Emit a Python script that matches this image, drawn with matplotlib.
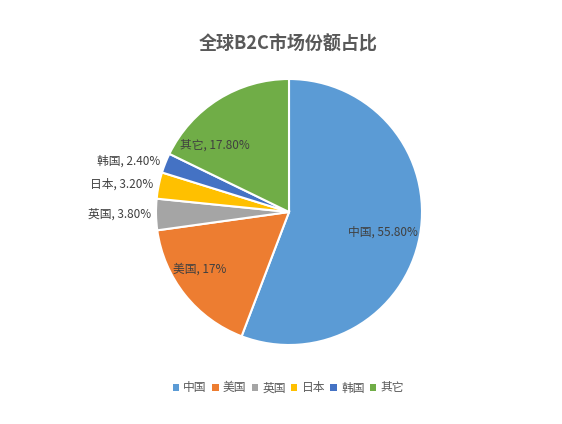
import numpy as np
import matplotlib
matplotlib.use("Agg")
import matplotlib.pyplot as plt
from matplotlib.patches import Patch

plt.rcParams['font.family'] = ['Noto Sans CJK SC', 'DejaVu Sans']

# data
countries = ['中国', '美国', '英国', '日本', '韩国', '其它']
shares = [55.8, 17, 3.8, 3.2, 2.4, 17.8]
share_labels = ['55.80%', '17%', '3.80%', '3.20%', '2.40%', '17.80%']
colors = ['#5B9BD5', '#ED7D31', '#A5A5A5', '#FFC000', '#4472C4', '#70AD47']

# label placement: radial distance, angle tweak (deg), inside/outside
label_dist = [0.72, 0.80, 1.04, 1.04, 1.04, 0.75]
label_dang = [-2, -6, 0, 0, 0, 16]

fig = plt.figure(figsize=(5.62, 4.24), dpi=100)
ax = fig.add_axes([156 / 562, (424 - 345) / 424, 266 / 562, 266 / 424])

wedges, _ = ax.pie(shares, colors=colors, startangle=90, counterclock=False,
                   wedgeprops=dict(edgecolor='white', linewidth=1.5))
ax.set_xlim(-1, 1)
ax.set_ylim(-1, 1)
ax.set_aspect('auto')

for w, name, lab, d, da in zip(wedges, countries, share_labels, label_dist, label_dang):
    ang = np.deg2rad((w.theta1 + w.theta2) / 2 + da)
    x, y = d * np.cos(ang), d * np.sin(ang)
    ha = 'center' if d < 1 else 'right'
    ax.text(x, y, f'{name}, {lab}', ha=ha, va='center', fontsize=8.5, color='#404040')

fig.text(0.513, 0.896, '全球B2C市场份额占比', ha='center', va='center',
         fontsize=13, fontweight='bold', color='#595959')

handles = [Patch(facecolor=c, edgecolor='none') for c in colors]
fig.legend(handles, countries, loc='center', bbox_to_anchor=(0.513, 0.085), ncol=6,
           frameon=False, fontsize=8.5, handlelength=0.55, handleheight=0.55,
           handletextpad=0.35, columnspacing=0.45, labelcolor='#595959')

fig.savefig('out.png', dpi=100)
